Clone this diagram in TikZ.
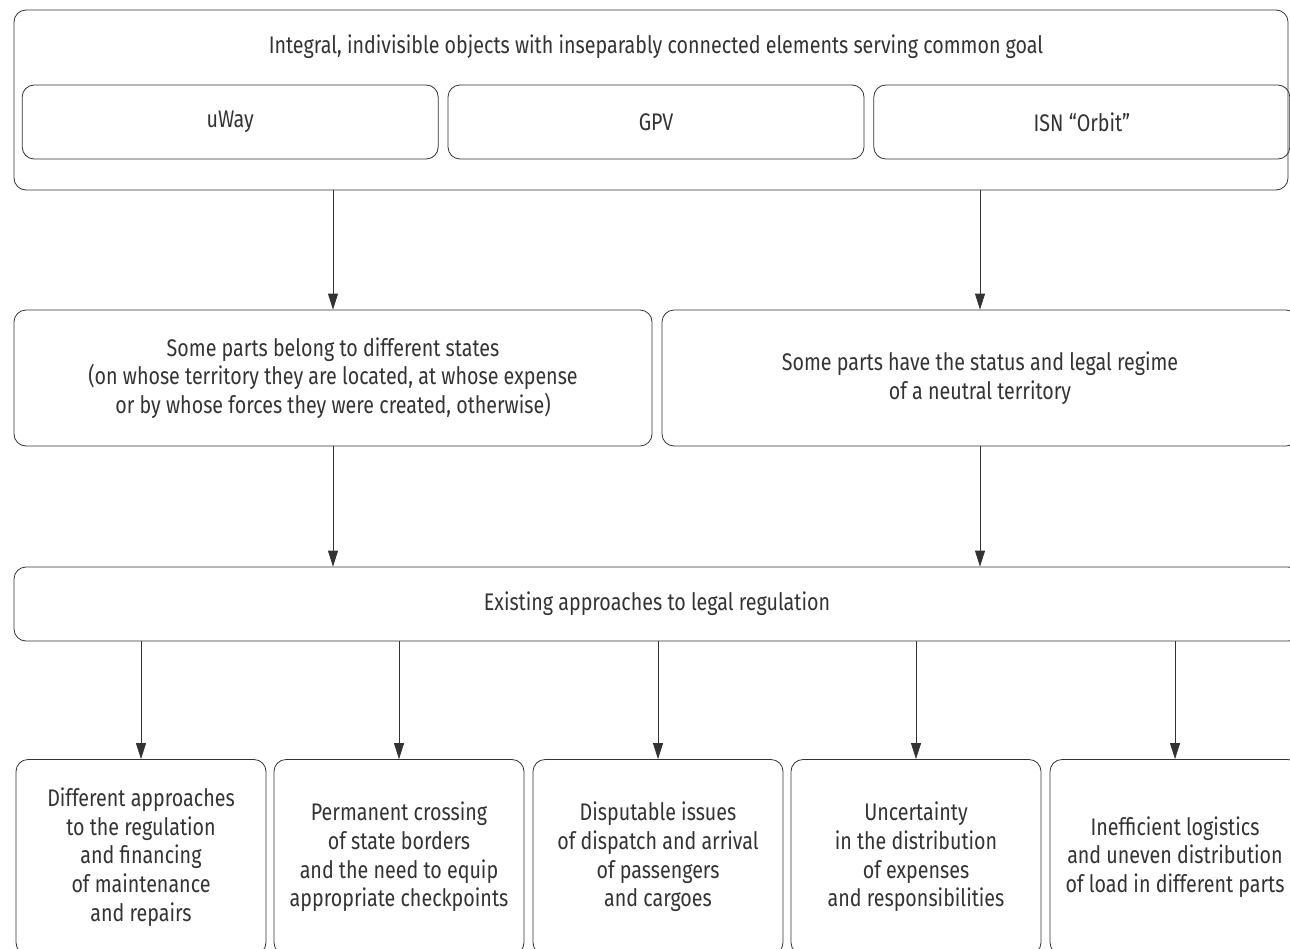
\documentclass[tikz,border=0pt]{standalone}
\usepackage{fontspec}
\setmainfont{Fira Sans}[FakeStretch=0.82]
\usetikzlibrary{arrows.meta,positioning}
\definecolor{ink}{HTML}{333333}

\begin{document}
\begin{tikzpicture}[x=0.5pt,y=-0.5pt,font=\fontsize{12}{14.3}\selectfont,
    box/.style={draw=ink,rounded corners=6pt,align=center,text=ink,inner sep=0pt},
    arr/.style={draw=ink,-{Triangle[length=8pt,width=5pt]}}]
  \useasboundingbox (0,0) rectangle (1290,948);
  \clip (0,0) rectangle (1290,948);
  % top block
  \node[box,minimum width=637pt,minimum height=90pt] (objects) at (651,100) {};
  \node[text=ink] (goal) at (656,47)
    {Integral, indivisible objects with inseparably connected elements serving common goal};
  \node[box,minimum width=208pt,minimum height=37pt] (gpv) at (656,122) {GPV};
  \node[box,minimum width=208pt,minimum height=37pt,left=4.5pt of gpv] (uway) {uWay};
  \node[box,minimum width=208pt,minimum height=37pt,right=4.5pt of gpv] (isn) {ISN ``Orbit''};
  % second row
  \node[box,minimum width=319pt,minimum height=68pt] (states) at (333,378)
    {Some parts belong to different states\\
     (on whose territory they are located, at whose expense\\
     or by whose forces they were created, otherwise)};
  \node[box,minimum width=318pt,minimum height=68pt] (neutral) at (980,378)
    {Some parts have the status and legal regime\\of a neutral territory};
  % third row
  \node[box,minimum width=643pt,minimum height=37pt] (existing) at (657,604)
    {Existing approaches to legal regulation};
  % bottom row
  \node[box,minimum width=125pt,minimum height=97.5pt] (financing) at (141,857)
    {Different approaches\\to the regulation\\and financing\\of maintenance\\and repairs};
  \node[box,minimum width=125pt,minimum height=97.5pt] (borders) at (399,857)
    {Permanent crossing\\of state borders\\and the need to equip\\appropriate checkpoints};
  \node[box,minimum width=125pt,minimum height=97.5pt] (dispatch) at (658,857)
    {Disputable issues\\of dispatch and arrival\\of passengers\\and cargoes};
  \node[box,minimum width=125pt,minimum height=97.5pt] (expenses) at (916,857)
    {Uncertainty\\in the distribution\\of expenses\\and responsibilities};
  \node[box,minimum width=125pt,minimum height=97.5pt] (logistics) at (1175,857)
    {Inefficient logistics\\and uneven distribution\\of load in different parts};
  % connectors
  \draw[arr] (objects.south -| states) -- (states);
  \draw[arr] (objects.south -| neutral) -- (neutral);
  \draw[arr] (states) -- (states |- existing.north);
  \draw[arr] (neutral) -- (neutral |- existing.north);
  \foreach \b in {financing,borders,dispatch,expenses,logistics}
    \draw[arr] (existing.south -| \b) -- (\b);
\end{tikzpicture}
\end{document}
